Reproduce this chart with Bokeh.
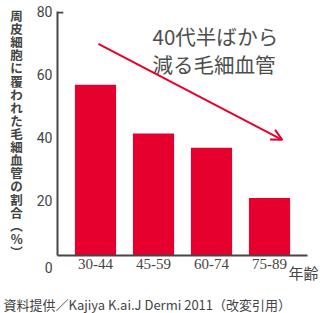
from bokeh.plotting import figure
from bokeh.models import (ColumnDataSource, FactorRange, Range1d, FixedTicker,
                          Label, Arrow, OpenHead, Title)
from bokeh.embed import file_html
from bokeh.resources import INLINE

# ---- data ----
ages = ["30-44", "45-59", "60-74", "75-89"]
ratios = [57, 41.5, 37, 21]
y_ticks = [20, 40, 60, 80]
y_title = "周皮細胞に覆われた毛細血管の割合"
y_unit = ["︵", "%", "︶"]
x_title = "年齢"
note = "40代半ばから\n減る毛細血管"
source_txt = "資料提供／Kajiya K.ai.J Dermi 2011（改変引用）"
trend_start = (0.55, 70)
trend_end = (3.72, 39.5)

RED = "#e5002d"
AX = "#4a4545"
TXT = "#444444"
JP = "Noto Sans CJK JP"
NUM = "Roboto"
Y_BASE = 2.7
Y_TOP = 80
PAD = 0.155

src = ColumnDataSource(dict(age=ages, ratio=ratios))

p = figure(width=322, height=313, output_backend="svg", toolbar_location=None,
           x_range=FactorRange(factors=ages, range_padding=PAD,
                               range_padding_units="absolute"),
           y_range=Range1d(Y_BASE, Y_TOP + 0.3),
           min_border_left=57, min_border_right=15, min_border_top=11,
           min_border_bottom=46)
p.outline_line_color = None
p.grid.grid_line_color = None
p.background_fill_color = "white"
p.border_fill_color = "white"

p.vbar(x="age", top="ratio", bottom=Y_BASE, width=0.71, source=src,
       fill_color=RED, line_color=None)

# x axis
p.xaxis.axis_line_color = AX
p.xaxis.axis_line_width = 2
p.xaxis.major_tick_line_color = None
p.xaxis.minor_tick_line_color = None
p.xaxis.major_tick_out = 0
p.xaxis.major_label_standoff = 3
p.xaxis.major_label_text_font = "Liberation Sans Narrow"
p.xaxis.major_label_text_font_size = "15px"
p.xaxis.major_label_text_color = TXT

# y axis; the "0" label sits below the baseline
p.yaxis.ticker = FixedTicker(ticks=[Y_BASE] + y_ticks)
p.yaxis.major_label_overrides = {Y_BASE: "\n0"}
p.yaxis.axis_line_color = AX
p.yaxis.axis_line_width = 2
p.yaxis.major_tick_line_color = None
p.yaxis.minor_tick_line_color = None
p.yaxis.major_tick_out = 0
p.yaxis.major_label_standoff = 5
p.yaxis.major_label_text_font = NUM
p.yaxis.major_label_text_font_size = "14px"
p.yaxis.major_label_text_color = TXT
p.yaxis.major_label_text_line_height = 1.5
# upright vertical title: one character per line
p.yaxis.axis_label = "\n".join(list(y_title) + y_unit)
p.yaxis.axis_label_orientation = "horizontal"
p.yaxis.axis_label_standoff = 11
p.yaxis.axis_label_text_font = JP
p.yaxis.axis_label_text_font_size = "12.5px"
p.yaxis.axis_label_text_font_style = "bold"
p.yaxis.axis_label_text_color = TXT
p.yaxis.axis_label_text_line_height = 0.69

# cap at top of y axis
x0 = -PAD
p.segment(x0=[x0], y0=[Y_TOP], x1=[x0 + 0.1], y1=[Y_TOP], line_color=AX,
          line_width=2)

# x title (below panel), on the row of the category labels
p.add_layout(Label(x=231, y=20, x_units="screen", y_units="screen",
                   text=x_title, text_font=JP, text_font_size="15px",
                   text_color=TXT, text_align="left", text_baseline="middle"),
             "below")

# annotation
p.add_layout(Label(x=95, y=235, x_units="screen", y_units="screen",
                   text=note, text_font=JP, text_font_size="20.5px",
                   text_color="#4d4d4d", text_line_height=0.94,
                   text_align="left", text_baseline="top"))

p.add_layout(Arrow(x_start=trend_start[0], y_start=trend_start[1],
                   x_end=trend_end[0], y_end=trend_end[1],
                   line_color=RED, line_width=2,
                   end=OpenHead(size=11, line_color=RED, line_width=2)))

# source line
p.add_layout(Title(text=source_txt, align="left", offset=-54,
                   text_font=JP, text_font_size="13px", text_color=TXT,
                   text_font_style="normal", standoff=0), "below")

open("out.html", "w").write(file_html(p, INLINE))
